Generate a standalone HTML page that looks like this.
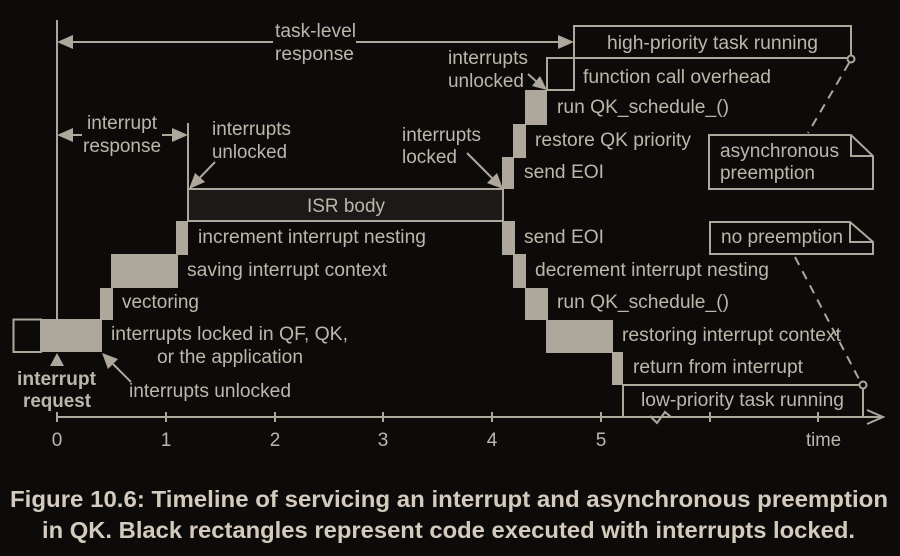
<!DOCTYPE html>
<html><head><meta charset="utf-8"><style>
html,body{margin:0;padding:0;background:#0d0b0a;}
svg{display:block;}
text{font-family:"Liberation Sans",Arial,sans-serif;font-size:19px;fill:#bdb6ab;}
.cap{font-family:"Liberation Sans Narrow","Liberation Sans",sans-serif;font-size:23px;font-weight:bold;fill:#d3cbbe;}
.b{font-weight:bold;}
</style></head><body>
<svg width="900" height="556" viewBox="0 0 900 556" xmlns="http://www.w3.org/2000/svg">
<rect x="0" y="0" width="900" height="556" fill="#0d0b0a"/>
<g stroke="#aea79c" stroke-width="2" fill="none">
  <line x1="57" y1="20" x2="57" y2="319"/>
  <line x1="72" y1="42" x2="273" y2="42"/>
  <line x1="356" y1="42" x2="559" y2="42"/>
  <line x1="72" y1="135" x2="82" y2="135"/>
  <line x1="162" y1="135" x2="173" y2="135"/>
  <line x1="188" y1="123" x2="188" y2="189"/>
  <line x1="215" y1="162" x2="200" y2="177.5"/>
  <line x1="467" y1="153" x2="492" y2="178"/>
  <line x1="528" y1="74" x2="537" y2="82"/>
  <line x1="131" y1="382" x2="113" y2="364"/>
  <rect x="13.5" y="319.5" width="27.5" height="32.5"/>
  <rect x="547" y="58" width="27" height="32"/>
  <rect x="574" y="26" width="277" height="32"/>
  <line x1="547" y1="58" x2="848" y2="58"/>
  <polyline points="623,417 623,385 859.5,385"/>
  <line x1="863" y1="388.5" x2="863" y2="417"/>
  <line x1="57" y1="417" x2="882" y2="417"/>
  <polyline points="867,410 883,417 867,424"/>
  <g>
    <line x1="57" y1="412" x2="57" y2="422"/>
    <line x1="166" y1="412" x2="166" y2="422"/>
    <line x1="275" y1="412" x2="275" y2="422"/>
    <line x1="383" y1="412" x2="383" y2="422"/>
    <line x1="492" y1="412" x2="492" y2="422"/>
    <line x1="601" y1="412" x2="601" y2="422"/>
    <line x1="710" y1="412" x2="710" y2="422"/>
    <line x1="818" y1="412" x2="818" y2="422"/>
  </g>
  <polyline points="650,416 657,423 665,412 671,417"/>
  <path d="M709,135 H851 L873,156 V189 H709 Z"/>
  <path d="M851,135 V156 H873"/>
  <path d="M710,222 H850 L873,242 V254 H710 Z"/>
  <path d="M850,222 V242 H873"/>
  <line x1="849" y1="63" x2="808" y2="133" stroke-dasharray="9,7"/>
  <line x1="795" y1="257" x2="860" y2="381" stroke-dasharray="9,7"/>
  <circle cx="851" cy="59" r="3.5" fill="#0d0b0a"/>
  <circle cx="863" cy="385" r="3.5" fill="#0d0b0a"/>
</g>
<rect x="188" y="189" width="315" height="32" fill="#1c1a18" stroke="#aea79c" stroke-width="2"/>
<g fill="#aea79c">
  <rect x="41" y="319" width="61" height="33"/>
  <rect x="100" y="288" width="13" height="32"/>
  <rect x="111" y="254" width="67" height="34"/>
  <rect x="176" y="221" width="12" height="34"/>
  <rect x="502" y="157" width="12" height="32"/>
  <rect x="513" y="124" width="13" height="34"/>
  <rect x="525" y="90" width="22" height="35"/>
  <rect x="502" y="221" width="13" height="34"/>
  <rect x="513" y="254" width="13" height="34"/>
  <rect x="525" y="288" width="23" height="32"/>
  <rect x="546" y="320" width="67" height="33"/>
  <rect x="612" y="352" width="11" height="33"/>
  <polygon points="57,42 73,35 73,49"/>
  <polygon points="574,42 558,35 558,49"/>
  <polygon points="57,135 73,128 73,142"/>
  <polygon points="188,135 172,128 172,142"/>
  <polygon points="189,189 205,182 195,173"/>
  <polygon points="503,189 497,173 487,183"/>
  <polygon points="547,90 540,76 532,86"/>
  <polygon points="102,353 118,359 108,369"/>
  <polygon points="57,353 50,366 64,366"/>
</g>
<text x="275" y="37" textLength="81" lengthAdjust="spacingAndGlyphs">task-level</text>
<text x="275" y="60" textLength="79" lengthAdjust="spacingAndGlyphs">response</text>
<text x="87" y="129" textLength="70" lengthAdjust="spacingAndGlyphs">interrupt</text>
<text x="83" y="152" textLength="78" lengthAdjust="spacingAndGlyphs">response</text>
<text x="212" y="135" textLength="79" lengthAdjust="spacingAndGlyphs">interrupts</text>
<text x="212" y="158" textLength="75" lengthAdjust="spacingAndGlyphs">unlocked</text>
<text x="402" y="141" textLength="79" lengthAdjust="spacingAndGlyphs">interrupts</text>
<text x="402" y="163" textLength="55" lengthAdjust="spacingAndGlyphs">locked</text>
<text x="448" y="64" textLength="80" lengthAdjust="spacingAndGlyphs">interrupts</text>
<text x="448" y="87" textLength="76" lengthAdjust="spacingAndGlyphs">unlocked</text>
<text x="607" y="49" textLength="211" lengthAdjust="spacingAndGlyphs">high-priority task running</text>
<text x="583" y="83" textLength="188" lengthAdjust="spacingAndGlyphs">function call overhead</text>
<text x="557" y="113" textLength="172" lengthAdjust="spacingAndGlyphs">run QK_schedule_()</text>
<text x="535" y="146" textLength="156" lengthAdjust="spacingAndGlyphs">restore QK priority</text>
<text x="524" y="178" textLength="80" lengthAdjust="spacingAndGlyphs">send EOI</text>
<text x="720" y="157" textLength="119" lengthAdjust="spacingAndGlyphs">asynchronous</text>
<text x="720" y="179" textLength="95" lengthAdjust="spacingAndGlyphs">preemption</text>
<text x="307" y="212" textLength="78" lengthAdjust="spacingAndGlyphs">ISR body</text>
<text x="198" y="243" textLength="228" lengthAdjust="spacingAndGlyphs">increment interrupt nesting</text>
<text x="187" y="276" textLength="200" lengthAdjust="spacingAndGlyphs">saving interrupt context</text>
<text x="122" y="308" textLength="77" lengthAdjust="spacingAndGlyphs">vectoring</text>
<text x="111" y="340" textLength="237" lengthAdjust="spacingAndGlyphs">interrupts locked in QF, QK,</text>
<text x="157" y="363" textLength="146" lengthAdjust="spacingAndGlyphs">or the application</text>
<text x="129" y="397" textLength="162" lengthAdjust="spacingAndGlyphs">interrupts unlocked</text>
<text class="b" x="17" y="385" textLength="79" lengthAdjust="spacingAndGlyphs">interrupt</text>
<text class="b" x="23" y="407" textLength="68" lengthAdjust="spacingAndGlyphs">request</text>
<text x="524" y="243" textLength="80" lengthAdjust="spacingAndGlyphs">send EOI</text>
<text x="535" y="276" textLength="234" lengthAdjust="spacingAndGlyphs">decrement interrupt nesting</text>
<text x="557" y="308" textLength="172" lengthAdjust="spacingAndGlyphs">run QK_schedule_()</text>
<text x="622" y="341" textLength="219" lengthAdjust="spacingAndGlyphs">restoring interrupt context</text>
<text x="633" y="373" textLength="170" lengthAdjust="spacingAndGlyphs">return from interrupt</text>
<text x="641" y="406" textLength="203" lengthAdjust="spacingAndGlyphs">low-priority task running</text>
<text x="721" y="243" textLength="122" lengthAdjust="spacingAndGlyphs">no preemption</text>
<g text-anchor="middle">
  <text x="57" y="446">0</text>
  <text x="166" y="446">1</text>
  <text x="275" y="446">2</text>
  <text x="383" y="446">3</text>
  <text x="492" y="446">4</text>
  <text x="601" y="446">5</text>
</g>
<text x="806" y="446" textLength="35" lengthAdjust="spacingAndGlyphs">time</text>
<text class="cap" x="10" y="507" textLength="878" lengthAdjust="spacingAndGlyphs">Figure 10.6: Timeline of servicing an interrupt and asynchronous preemption</text>
<text class="cap" x="42" y="538" textLength="813" lengthAdjust="spacingAndGlyphs">in QK. Black rectangles represent code executed with interrupts locked.</text>
</svg>
</body></html>
